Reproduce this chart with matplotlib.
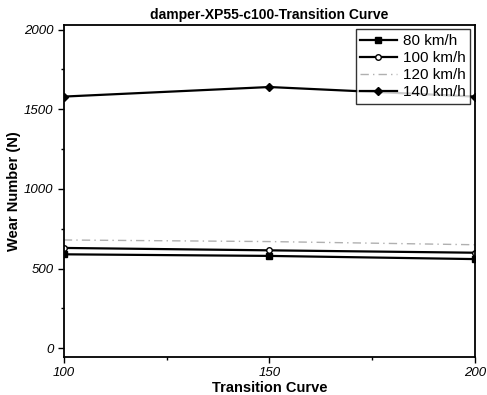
import numpy as np
import matplotlib.pyplot as plt

plt.rcParams['font.family'] = ['Liberation Sans', 'DejaVu Sans']

x = [100, 150, 200]
v80 = [590, 580, 560]
v100 = [630, 615, 600]
v120 = [680, 670, 650]
v140 = [1580, 1640, 1580]

fig = plt.figure(figsize=(4.87, 3.95), dpi=100)
ax = fig.add_axes([0.131, 0.096, 0.844, 0.841])

ax.plot(x, v80, color='k', lw=1.6, marker='s', ms=4, label='80 km/h')
ax.plot(x, v100, color='k', lw=1.6, marker='o', ms=4, mfc='white', label='100 km/h')
ax.plot(x, v120, color='#b0b0b0', lw=1.0, ls=(0, (6, 3, 1, 3)), label='120 km/h')
ax.plot(x, v140, color='k', lw=1.6, marker='D', ms=4, label='140 km/h')

ax.set_xlim(100, 200)
ax.set_ylim(-55, 2030)
ax.set_xticks([100, 150, 200])
ax.set_xticks([125, 175], minor=True)
ax.set_yticks([0, 500, 1000, 1500, 2000])
ax.set_yticks([250, 750, 1250, 1750], minor=True)
ax.tick_params(which='both', direction='out', width=1)
ax.tick_params(which='major', length=4)
ax.tick_params(which='minor', length=2.5)
for lab in ax.get_xticklabels() + ax.get_yticklabels():
    lab.set_fontstyle('italic')
    lab.set_fontsize(9.5)
for s in ax.spines.values():
    s.set_linewidth(1.3)

ax.set_title('damper-XP55-c100-Transition Curve', fontsize=10, fontweight='bold', pad=4)
ax.set_xlabel('Transition Curve', fontsize=10.5, fontweight='bold', labelpad=1)
ax.set_ylabel('Wear Number (N)', fontsize=10.5, fontweight='bold', labelpad=2)

leg = ax.legend(loc='upper right', fontsize=11, frameon=True, fancybox=False,
                edgecolor='k', handlelength=2.4, borderaxespad=0.3,
                labelspacing=0.2, handletextpad=0.4, borderpad=0.3)
leg.get_frame().set_linewidth(1.0)

fig.savefig('out.png', dpi=100)
